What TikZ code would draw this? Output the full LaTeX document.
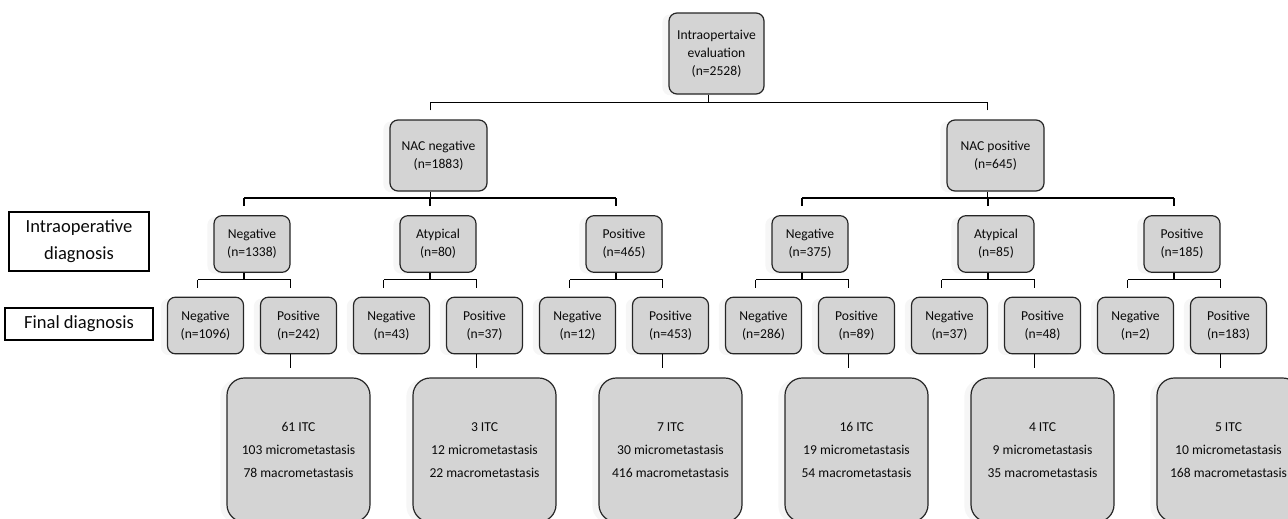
\documentclass[tikz,border=0pt]{standalone}
\usepackage{fontspec}
\setmainfont{Carlito}
\usetikzlibrary{calc,shadows}
\definecolor{boxgray}{RGB}{212,212,212}
\definecolor{txt}{RGB}{10,10,10}
\tikzset{
  tbox/.style={draw=black!85, line width=0.9pt, fill=boxgray, rounded corners=6pt,
    align=center, inner sep=0pt, text=txt, font=\fontsize{10.2}{13.5}\selectfont,
    drop shadow={shadow xshift=-5pt, shadow yshift=-1pt, opacity=0.07}},
  smallbox/.style={tbox, minimum width=57pt, minimum height=42.5pt},
  nacbox/.style={tbox, minimum width=72.75pt, minimum height=53.25pt},
  topbox/.style={tbox, minimum width=71.25pt, minimum height=60.75pt},
  resbox/.style={tbox, rounded corners=13pt, minimum width=107.25pt, minimum height=108pt,
    font=\fontsize{10.2}{17.25}\selectfont},
  labbox/.style={draw=black, line width=0.8pt, fill=white, align=center, inner sep=0pt,
    text=txt, font=\fontsize{13.9}{20.25}\selectfont},
  conn/.style={draw=black, line width=1.05pt}
}
\newcommand{\fork}[2]{%
  \coordinate (#1-s) at ([xshift=-6pt]#1.south);
  \foreach \c in {#2} {
    \draw[conn] ([xshift=-6pt,yshift=6.75pt]\c.north) -- ++(0,-8) coordinate (\c-bar);
  }
}
\begin{document}
\begin{tikzpicture}[x=0.75pt,y=-0.75pt]
\useasboundingbox (0,0) rectangle (1288,518);
\clip (0,0) rectangle (1288,518);

% side labels
\node[labbox, minimum width=105pt, minimum height=44.25pt] (lab1) at (79,241.5) {Intraoperative\\diagnosis};
\node[labbox, minimum width=111pt, minimum height=24pt] (lab2) at (79,324) {Final diagnosis};

% top
\node[topbox] (top) at (716.5,53.5) {Intraopertaive\\evaluation\\(n=2528)};

% NAC
\node[nacbox] (nn) at (438.5,155.5) {NAC negative\\(n=1883)};
\node[nacbox] (np) at (995.5,155.5) {NAC positive\\(n=645)};

% intraoperative diagnosis
\node[smallbox] (i1) at (252,244) {Negative\\(n=1338)};
\node[smallbox] (i2) at (438,244) {Atypical\\(n=80)};
\node[smallbox] (i3) at (624,244) {Positive\\(n=465)};
\node[smallbox] (i4) at (810,244) {Negative\\(n=375)};
\node[smallbox] (i5) at (996,244) {Atypical\\(n=85)};
\node[smallbox] (i6) at (1182,244) {Positive\\(n=185)};

% final diagnosis
\node[smallbox] (f1)  at (205.5,325.5) {Negative\\(n=1096)};
\node[smallbox] (f2)  at (298.5,325.5) {Positive\\(n=242)};
\node[smallbox] (f3)  at (391.5,325.5) {Negative\\(n=43)};
\node[smallbox] (f4)  at (484.5,325.5) {Positive\\(n=37)};
\node[smallbox] (f5)  at (577.5,325.5) {Negative\\(n=12)};
\node[smallbox] (f6)  at (670.5,325.5) {Positive\\(n=453)};
\node[smallbox] (f7)  at (763.5,325.5) {Negative\\(n=286)};
\node[smallbox] (f8)  at (856.5,325.5) {Positive\\(n=89)};
\node[smallbox] (f9)  at (949.5,325.5) {Negative\\(n=37)};
\node[smallbox] (f10) at (1042.5,325.5) {Positive\\(n=48)};
\node[smallbox] (f11) at (1135.5,325.5) {Negative\\(n=2)};
\node[smallbox] (f12) at (1228.5,325.5) {Positive\\(n=183)};

% results
\node[resbox] (b1) at (298.5,450) {61 ITC\\103 micrometastasis\\78 macrometastasis};
\node[resbox] (b2) at (484.5,450) {3 ITC\\12 micrometastasis\\22 macrometastasis};
\node[resbox] (b3) at (670.5,450) {7 ITC\\30 micrometastasis\\416 macrometastasis};
\node[resbox] (b4) at (856.5,450) {16 ITC\\19 micrometastasis\\54 macrometastasis};
\node[resbox] (b5) at (1042.5,450) {4 ITC\\9 micrometastasis\\35 macrometastasis};
\node[resbox] (b6) at (1228.5,450) {5 ITC\\10 micrometastasis\\168 macrometastasis};

% connectors
\fork{top}{nn,np}
\draw[conn] (nn-bar) -- (np-bar);
\draw[conn] (top-s) -- (top-s |- nn-bar);

\fork{nn}{i1,i2,i3}
\draw[conn] (i1-bar) -- (i3-bar);
\draw[conn] (nn-s) -- (nn-s |- i1-bar);

\fork{np}{i4,i5,i6}
\draw[conn] (i4-bar) -- (i6-bar);
\draw[conn] (np-s) -- (np-s |- i4-bar);

\fork{i1}{f1,f2}
\draw[conn] (f1-bar) -- (f2-bar);
\draw[conn] (i1-s) -- (i1-s |- f1-bar);
\fork{i2}{f3,f4}
\draw[conn] (f3-bar) -- (f4-bar);
\draw[conn] (i2-s) -- (i2-s |- f3-bar);
\fork{i3}{f5,f6}
\draw[conn] (f5-bar) -- (f6-bar);
\draw[conn] (i3-s) -- (i3-s |- f5-bar);
\fork{i4}{f7,f8}
\draw[conn] (f7-bar) -- (f8-bar);
\draw[conn] (i4-s) -- (i4-s |- f7-bar);
\fork{i5}{f9,f10}
\draw[conn] (f9-bar) -- (f10-bar);
\draw[conn] (i5-s) -- (i5-s |- f9-bar);
\fork{i6}{f11,f12}
\draw[conn] (f11-bar) -- (f12-bar);
\draw[conn] (i6-s) -- (i6-s |- f11-bar);

% positive to results
\draw[conn] ([xshift=-6pt]f2.south) -- ([xshift=-6pt,yshift=6.75pt]b1.north);
\draw[conn] ([xshift=-6pt]f4.south) -- ([xshift=-6pt,yshift=6.75pt]b2.north);
\draw[conn] ([xshift=-6pt]f6.south) -- ([xshift=-6pt,yshift=6.75pt]b3.north);
\draw[conn] ([xshift=-6pt]f8.south) -- ([xshift=-6pt,yshift=6.75pt]b4.north);
\draw[conn] ([xshift=-6pt]f10.south) -- ([xshift=-6pt,yshift=6.75pt]b5.north);
\draw[conn] ([xshift=-6pt]f12.south) -- ([xshift=-6pt,yshift=6.75pt]b6.north);
\end{tikzpicture}
\end{document}
